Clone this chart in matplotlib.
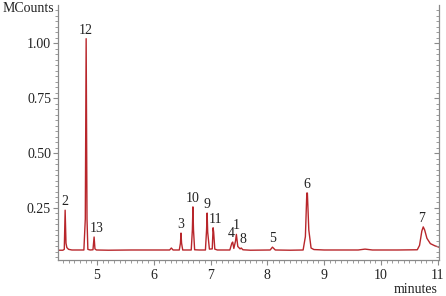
import matplotlib
matplotlib.use("Agg")
import matplotlib.pyplot as plt
from matplotlib.ticker import MultipleLocator, FixedLocator

# chromatogram trace (minutes, MCounts)
times = [4.314, 4.40, 4.425, 4.44, 4.455, 4.47, 4.50, 4.56,
         4.77, 4.795, 4.81, 4.825, 4.84, 4.88,
         4.93, 4.95, 4.965, 4.99, 5.20, 5.60, 6.00,
         6.28, 6.31, 6.34, 6.45, 6.47, 6.48, 6.49, 6.51,
         6.66, 6.68, 6.69, 6.70, 6.72, 6.80,
         6.91, 6.93, 6.94, 6.95, 6.98, 7.03, 7.045, 7.055, 7.075, 7.12,
         7.34, 7.375, 7.39, 7.41, 7.44, 7.455, 7.48, 7.52, 7.54, 7.57, 7.70,
         8.05, 8.09, 8.14, 8.40,
         8.63, 8.67, 8.695, 8.705, 8.73, 8.77, 8.82, 9.00,
         9.60, 9.72, 9.85, 10.30,
         10.64, 10.68, 10.72, 10.745, 10.77, 10.81, 10.87, 10.95, 11.02]
counts = [0.058, 0.058, 0.062, 0.240, 0.090, 0.070, 0.062, 0.059,
          0.059, 0.200, 1.020, 0.200, 0.062, 0.059,
          0.060, 0.118, 0.064, 0.059, 0.058, 0.059, 0.059,
          0.059, 0.068, 0.059, 0.059, 0.090, 0.136, 0.090, 0.059,
          0.059, 0.150, 0.255, 0.150, 0.060, 0.059,
          0.059, 0.150, 0.227, 0.140, 0.063, 0.064, 0.160, 0.140, 0.063, 0.059,
          0.059, 0.090, 0.095, 0.066, 0.100, 0.130, 0.075, 0.064, 0.068, 0.060, 0.058,
          0.059, 0.072, 0.059, 0.058,
          0.059, 0.120, 0.318, 0.318, 0.150, 0.068, 0.061, 0.059,
          0.059, 0.063, 0.059, 0.059,
          0.060, 0.080, 0.145, 0.164, 0.150, 0.112, 0.088, 0.078, 0.072]

# peak labels
peak_labels = ["2", "12", "13", "3", "10", "9", "11", "4", "1", "8", "5", "6", "7"]
peak_times = [4.44, 4.81, 4.99, 6.48, 6.69, 6.94, 7.08, 7.36, 7.46, 7.57, 8.09, 8.70, 10.72]
peak_tops = [0.240, 1.020, 0.118, 0.136, 0.255, 0.227, 0.160, 0.095, 0.130, 0.068, 0.072, 0.318, 0.164]

y_ticks = [0.25, 0.50, 0.75, 1.00]
y_ticklabels = ["0.25", "0.50", "0.75", "1.00"]
x_ticks = [5, 6, 7, 8, 9, 10, 11]

plt.rcParams['font.family'] = ['Liberation Serif', 'DejaVu Serif']

fig = plt.figure(figsize=(4.46, 2.96), dpi=100)
ax = fig.add_axes([0.130, 0.122, 0.854, 0.861])
ax.plot(times, counts, color='#b8262b', lw=1.0)

ax.set_xlim(4.314, 11.02)
ax.set_ylim(0.014, 1.173)

for lab, t, h in zip(peak_labels, peak_times, peak_tops):
    ax.annotate(lab, (t, h), xytext=(0, 1.5), textcoords='offset points',
                ha='center', va='bottom', fontsize=10, color='#222222')

gray = '#8a8a8a'
ax.spines['top'].set_visible(False)
for s in ['left', 'right', 'bottom']:
    ax.spines[s].set_color(gray)
    ax.spines[s].set_linewidth(0.9)

ax.yaxis.set_major_locator(FixedLocator(y_ticks))
ax.set_yticklabels(y_ticklabels)
ax.yaxis.set_minor_locator(MultipleLocator(0.025))
ax.xaxis.set_major_locator(FixedLocator(x_ticks))
ax.xaxis.set_minor_locator(MultipleLocator(0.1))

ax.tick_params(axis='both', which='major', length=3.5, width=0.8, color=gray,
               labelsize=10, labelcolor='#222222', pad=1.5)
ax.tick_params(axis='both', which='minor', length=2, width=0.6, color=gray)
ax.tick_params(axis='y', which='both', left=True, right=False, direction='out')
ax.tick_params(axis='x', which='major', pad=3)

# right-side ticks pointing inward
ax2 = ax.twinx()
ax2.set_ylim(ax.get_ylim())
ax2.yaxis.set_major_locator(FixedLocator(y_ticks))
ax2.yaxis.set_minor_locator(MultipleLocator(0.025))
ax2.tick_params(axis='y', which='both', direction='in', labelright=False, color=gray)
ax2.tick_params(axis='y', which='major', length=3.5, width=0.8)
ax2.tick_params(axis='y', which='minor', length=2, width=0.6)
for s in ax2.spines.values():
    s.set_visible(False)

fig.text(0.005, 0.97, "MCounts", fontsize=10, ha='left', va='center', color='#222222')
fig.text(0.98, 0.022, "minutes", fontsize=10, ha='right', va='center', color='#222222')

fig.savefig("out.png", dpi=100)
